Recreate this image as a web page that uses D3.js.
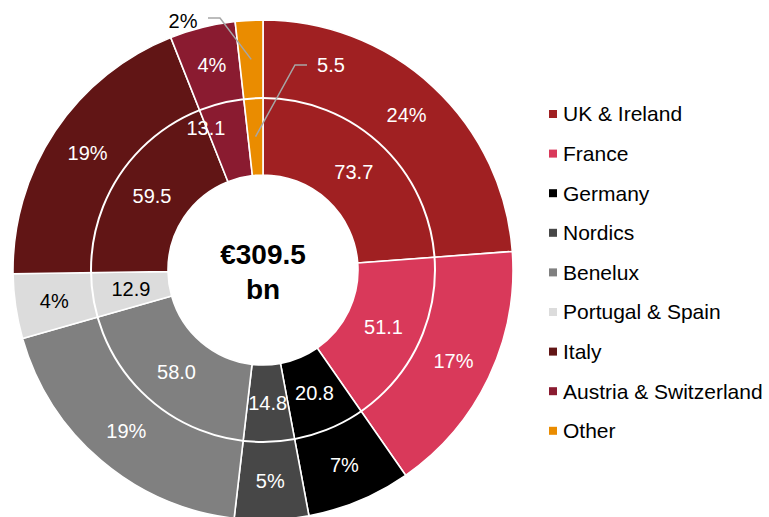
<!DOCTYPE html>
<html lang="en">
<head>
<meta charset="utf-8">
<title>Market by region</title>
<script src="https://cdn.jsdelivr.net/npm/d3@7"></script>
<style>
  body { margin: 0; background: #fff; }
  svg text { font-family: Arial, "Liberation Sans", sans-serif; }
</style>
</head>
<body>
<div id="chart"></div>
<script>
// values (EUR bn), clockwise from 12 o'clock
var regions = ["UK & Ireland", "France", "Germany", "Nordics", "Benelux",
               "Portugal & Spain", "Italy", "Austria & Switzerland", "Other"];
var values = [73.7, 51.1, 20.8, 14.8, 58.0, 12.9, 59.5, 13.1, 5.5];
var shares = ["24%", "17%", "7%", "5%", "19%", "4%", "19%", "4%", "2%"];
var colors = ["#a02022", "#d9395a", "#000000", "#474747", "#808080",
              "#dcdcdc", "#611515", "#8a1b30", "#ea8c00"];
var totalLabel = ["€309.5", "bn"];

var w = 769, h = 517;
var cx = 263, cy = 270;
var rHole = 95, rMid = 172, rOuter = 250;

var svg = d3.select("#chart").append("svg")
  .attr("width", w).attr("height", h);

var pie = d3.pie().sort(null).value(function(d) { return d; });
var arcs = pie(values);

var g = svg.append("g").attr("transform", "translate(" + cx + "," + cy + ")");

var arcFull = d3.arc().innerRadius(rHole).outerRadius(rOuter);
var arcIn = d3.arc().innerRadius(rHole).outerRadius(rMid);
var arcOut = d3.arc().innerRadius(rMid).outerRadius(rOuter);

g.selectAll("path.slice")
  .data(arcs)
  .enter()
  .append("path")
  .attr("class", "slice")
  .attr("d", arcFull)
  .attr("fill", function(d, i) { return colors[i]; })
  .attr("stroke", "#fff")
  .attr("stroke-width", 1.6);

// white ring separating inner values from outer shares
g.append("circle")
  .attr("r", rMid)
  .attr("fill", "none")
  .attr("stroke", "#fff")
  .attr("stroke-width", 2);

function textColor(i) {
  return colors[i] == "#dcdcdc" ? "#000" : "#fff";
}

// inner labels: values
g.selectAll("text.val")
  .data(arcs)
  .enter()
  .append("text")
  .attr("class", "val")
  .attr("text-anchor", "middle")
  .attr("dy", "0.35em")
  .style("font-size", "20px")
  .attr("fill", function(d, i) { return textColor(i); })
  .attr("transform", function(d, i) {
    var c = arcIn.centroid(d);
    if (i == 7) {
      // Austria & Switzerland label pushed onto the slice edge
      var a = d.startAngle - 0.005, r = 153;
      c = [Math.sin(a) * r, -Math.cos(a) * r];
    }
    if (i == 8) {
      // Other: label moved out with a leader line
      c = [68, -205];
    }
    return "translate(" + c + ")";
  })
  .text(function(d, i) { return values[i].toFixed(1); });

// outer labels: shares
g.selectAll("text.pct")
  .data(arcs)
  .enter()
  .append("text")
  .attr("class", "pct")
  .attr("text-anchor", "middle")
  .attr("dy", "0.35em")
  .style("font-size", "20px")
  .attr("fill", function(d, i) { return i == 8 ? "#000" : textColor(i); })
  .attr("transform", function(d, i) {
    var c = arcOut.centroid(d);
    if (i == 8) c = [-80, -249];
    return "translate(" + c + ")";
  })
  .text(function(d, i) { return shares[i]; });

// leader lines for the small "Other" slice
var other = arcs[8];
var ci = arcIn.centroid(other), co = arcOut.centroid(other);
var line = d3.line();
g.append("path")
  .attr("d", line([ci, [32, -205], [44, -205]]))
  .attr("fill", "none").attr("stroke", "#a6a6a6").attr("stroke-width", 1.5);
g.append("path")
  .attr("d", line([co, [-43, -252], [-55, -252]]))
  .attr("fill", "none").attr("stroke", "#a6a6a6").attr("stroke-width", 1.5);

// centre total
g.selectAll("text.total")
  .data(totalLabel)
  .enter()
  .append("text")
  .attr("class", "total")
  .attr("text-anchor", "middle")
  .attr("y", function(d, i) { return -6 + i * 35; })
  .style("font-size", "28px")
  .style("font-weight", "bold")
  .attr("fill", "#000")
  .text(function(d) { return d; });

// legend
var legend = svg.append("g").attr("transform", "translate(549,114)");
var rowH = 39.6;
var item = legend.selectAll("g.item")
  .data(regions)
  .enter()
  .append("g")
  .attr("class", "item")
  .attr("transform", function(d, i) { return "translate(0," + i * rowH + ")"; });
item.append("rect")
  .attr("x", 0).attr("y", -4)
  .attr("width", 8).attr("height", 8)
  .attr("fill", function(d, i) { return colors[i]; });
item.append("text")
  .attr("x", 14)
  .attr("dy", "0.35em")
  .style("font-size", "21px")
  .attr("fill", "#000")
  .text(function(d) { return d; });
</script>
</body>
</html>
